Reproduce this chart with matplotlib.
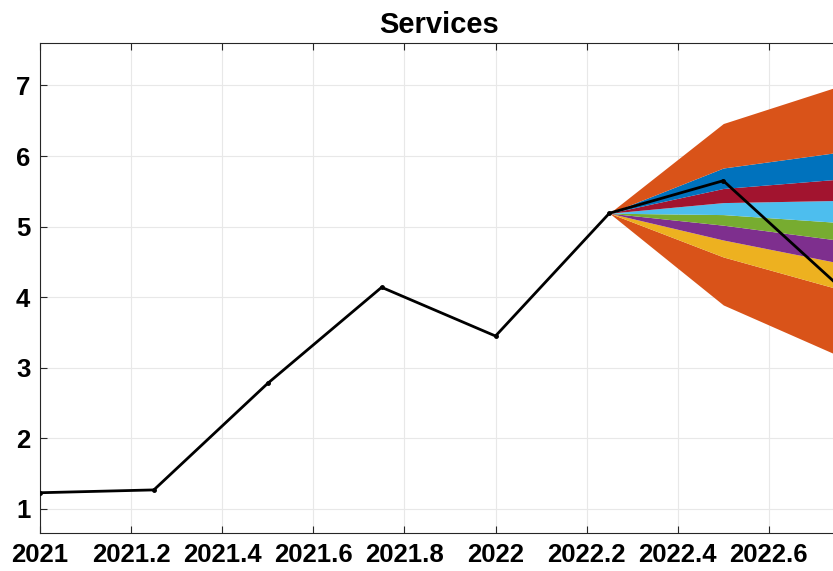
import numpy as np
import matplotlib
matplotlib.use("Agg")
import matplotlib.pyplot as plt

plt.rcParams['font.family'] = ['Liberation Sans', 'DejaVu Sans']
plt.rcParams['font.weight'] = 'bold'

# --- 데이터 ---
years = [2021.0, 2021.25, 2021.5, 2021.75, 2022.0, 2022.25, 2022.5, 2022.75]
services = [1.23, 1.27, 2.78, 4.14, 3.45, 5.19, 5.65, 4.18]

# 팬 차트 구간 (2022.25 부터)
fan_x = [2022.25, 2022.5, 2022.75]
# 아래에서 위로 경계값
fan_bounds = [
    [5.19, 3.89, 3.18],
    [5.19, 4.57, 4.12],
    [5.19, 4.81, 4.49],
    [5.19, 5.02, 4.81],
    [5.19, 5.17, 5.06],
    [5.19, 5.34, 5.37],
    [5.19, 5.54, 5.67],
    [5.19, 5.83, 6.05],
    [5.19, 6.46, 6.98],
]
fan_colors = [
    (0.850, 0.325, 0.098),  # orange
    (0.929, 0.694, 0.125),  # yellow
    (0.494, 0.184, 0.556),  # purple
    (0.466, 0.674, 0.188),  # green
    (0.301, 0.745, 0.933),  # light blue
    (0.635, 0.078, 0.184),  # dark red
    (0.000, 0.447, 0.741),  # blue
    (0.850, 0.325, 0.098),  # orange
]

xticks = [2021, 2021.2, 2021.4, 2021.6, 2021.8, 2022, 2022.2, 2022.4, 2022.6]
xtick_labels = ["2021", "2021.2", "2021.4", "2021.6", "2021.8", "2022", "2022.2", "2022.4", "2022.6"]
yticks = [1, 2, 3, 4, 5, 6, 7]

# --- 그래프 ---
fig = plt.figure(figsize=(8.33, 5.71), dpi=100)
ax = fig.add_axes([0.048, 0.0666, 0.957, 0.858])

for i, c in enumerate(fan_colors):
    ax.fill_between(fan_x, fan_bounds[i], fan_bounds[i + 1], color=c, lw=0, zorder=2)

ax.plot(years, services, color="black", lw=2, marker=".", ms=5, zorder=3)

ax.set_xlim(2021, 2022.75)
ax.set_ylim(0.66, 7.6)
ax.set_xticks(xticks)
ax.set_xticklabels(xtick_labels)
ax.set_yticks(yticks)

ax.grid(True, color=(0.91, 0.91, 0.91), lw=0.8, zorder=0)
ax.set_axisbelow(True)
ax.tick_params(axis="both", direction="in", labelsize=18.5, colors=(0.15, 0.15, 0.15),
               top=True, right=False, length=5, width=0.8, pad=7)
for lab in ax.get_xticklabels() + ax.get_yticklabels():
    lab.set_color("black")
    lab.set_fontweight("bold")
for s in ax.spines.values():
    s.set_color((0.15, 0.15, 0.15))
    s.set_linewidth(0.8)

ax.set_title("Services", fontsize=21, fontweight="bold", pad=7)

plt.savefig("out.png", dpi=100)
plt.close()
